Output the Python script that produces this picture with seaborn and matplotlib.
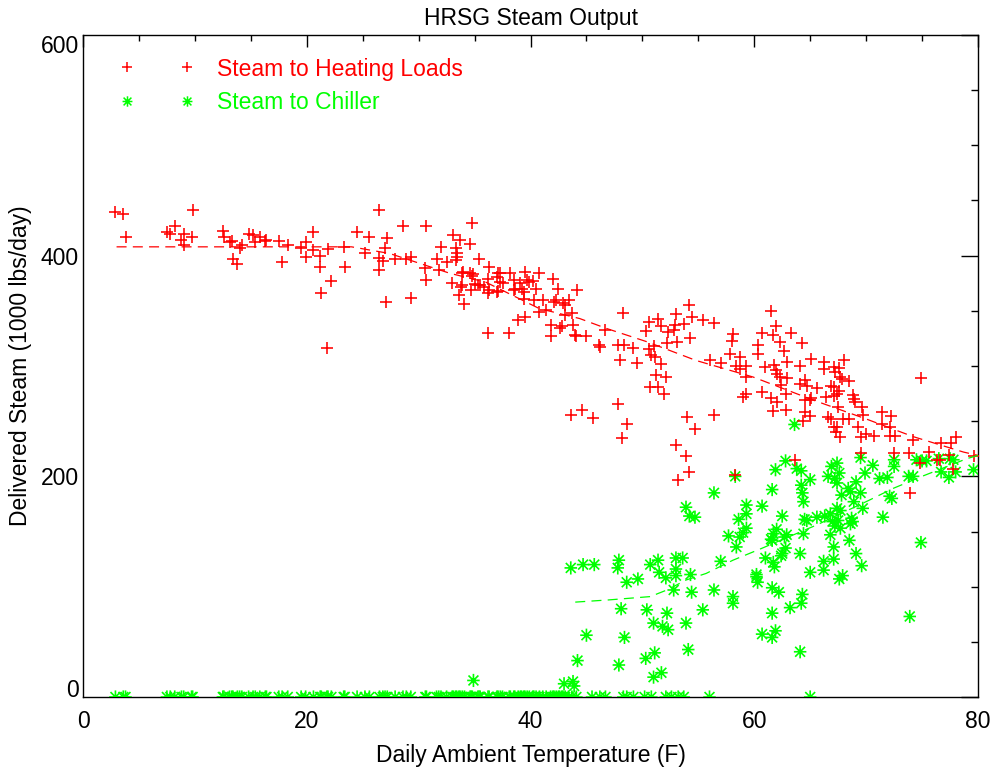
import numpy as np
import pandas as pd
import matplotlib
matplotlib.use("Agg")
import matplotlib.pyplot as plt
from matplotlib.path import Path
from matplotlib.lines import Line2D
from matplotlib.ticker import MultipleLocator
import seaborn as sns

# ---------------- data ----------------
heat_temp = [2.9, 3.6, 3.8, 9.8, 7.5, 7.8, 8.2, 9.0, 8.8, 9.0, 9.7, 12.5, 12.6, 13.1, 13.3, 13.4, 13.8,
             14.0, 14.2, 14.8, 15.2, 15.4, 15.8, 16.3, 16.4, 17.5, 17.8, 18.3, 19.5, 19.9, 19.9, 20.6,
             20.6, 21.2, 21.2, 21.3, 21.8, 21.9, 22.2, 23.3, 23.4, 24.5, 25.2, 25.6, 26.5, 26.5, 26.5,
             26.8, 27.0, 27.2, 27.1, 27.9, 28.6, 28.9, 29.3, 29.3, 30.7, 30.6, 30.7, 31.6, 31.8, 32.0,
             32.5, 33.1, 33.0, 33.3, 33.4, 33.4, 33.6, 33.7, 33.9, 33.9, 34.1, 34.6, 34.6, 34.8, 34.8,
             34.7, 35.3, 35.4, 35.5, 36.2, 36.3, 36.2, 36.3, 37.0, 37.1, 37.1,
             33.3, 33.8, 34.0, 34.9, 35.0, 35.8, 36.2, 37.0, 37.3, 37.3, 37.5, 38.1, 38.2, 38.5, 38.5,
             38.6, 39.1, 39.2, 39.4, 39.5, 39.7, 39.9, 40.2, 39.4, 38.9, 39.5, 40.5, 40.3, 40.8, 41.1,
             40.8, 41.4, 42.0, 42.5, 42.1, 42.3, 42.9, 43.1, 43.4, 41.8, 41.8, 42.6, 42.8, 43.1, 43.7,
             43.8, 44.0, 44.1, 44.2, 45.0, 46.1, 46.2, 46.7, 48.3, 47.8, 48.4, 49.2, 48.0, 49.5, 47.8,
             48.6, 48.2, 43.6, 44.6, 45.6, 50.3, 50.6, 51.4, 51.7, 50.6, 50.8, 51.0, 51.1, 50.7, 51.4,
             51.2, 51.7, 52.1, 51.9, 52.2, 52.3, 52.8, 52.9, 53.0, 53.1, 53.7, 54.2, 54.4, 54.3, 54.0,
             54.7, 53.0, 53.9, 54.2, 53.2,
             55.4, 56.4, 56.0, 57.0, 56.4, 58.1, 58.0, 57.8, 58.7, 58.4, 58.7, 59.3, 59.3, 59.0, 59.3,
             58.3, 60.7, 60.3, 60.3, 60.7, 61.5, 61.9, 61.7, 61.0, 61.8, 61.9, 62.0, 62.3, 62.7, 62.9,
             63.3, 62.3, 62.4, 62.9, 62.0, 61.7, 62.8, 62.8, 61.5, 64.1, 64.3, 64.1, 64.5, 64.7, 64.5,
             65.0, 65.1, 64.5, 64.4, 65.0, 65.1, 65.6, 66.2, 66.2, 66.4, 66.6, 66.9, 67.1, 67.2, 66.9,
             67.1, 67.1, 67.4, 67.1, 67.4, 67.3, 67.7, 68.0, 67.6, 67.7, 67.8, 67.6, 67.5, 67.9, 68.5,
             68.8, 68.9, 69.0, 68.5, 69.3, 69.6, 69.7, 69.5, 70.0, 70.7, 71.4, 71.4, 72.2, 72.1, 72.1,
             72.6, 74.2, 74.9, 73.9, 76.7, 77.6, 78.0, 79.6, 69.5, 72.5, 73.8, 75.6, 74.8, 77.4, 77.8,
             63.6, 76.3, 76.6]
heat_steam = [440, 438, 417, 441, 421, 420, 427, 420, 414, 410, 417, 422, 417, 412, 413, 397, 392,
              407, 410, 420, 419, 412, 417, 413, 414, 413, 394, 410, 407, 412, 399, 421,
              405, 400, 390, 366, 316, 406, 377, 408, 390, 421, 402, 417, 441, 398, 387,
              395, 407, 416, 358, 397, 427, 397, 399, 362, 427, 389, 378, 397, 387, 408,
              394, 419, 375, 407, 399, 402, 364, 414, 384, 373, 356, 411, 384, 430, 382,
              369, 373, 397, 373, 379, 390, 330, 369, 381, 384, 368,
              396, 372, 385, 383, 374, 372, 366, 367, 384, 376, 375, 330, 384, 378, 369,
              370, 375, 370, 367, 385, 378, 376, 377, 361, 342, 344, 370, 360, 384, 360,
              349, 351, 379, 370, 358, 360, 357, 355, 360, 337, 327, 334, 336, 346, 348,
              337, 328, 327, 369, 327, 319, 317, 333, 348, 319, 319, 316, 305, 303, 266,
              247, 235, 256, 260, 253, 332, 340, 343, 336, 315, 310, 318, 308, 281, 281,
              292, 302, 290, 275, 321, 331, 333, 337, 347, 322, 338, 355, 344, 325, 254,
              243, 228, 218, 204, 197,
              342, 339, 305, 303, 256, 329, 323, 311, 308, 300, 297, 300, 290, 272, 275,
              201, 330, 319, 311, 276, 350, 336, 328, 299, 301, 296, 293, 322, 314, 304,
              330, 290, 283, 289, 267, 259, 260, 275, 271, 300, 321, 284, 287, 282, 269,
              269, 271, 258, 250, 255, 306, 280, 304, 297, 272, 254, 252, 299, 295, 282,
              281, 273, 275, 245, 245, 240, 236, 305, 298, 290, 288, 277, 263, 252, 286,
              274, 270, 267, 252, 245, 263, 256, 236, 238, 237, 258, 247, 255, 245, 237,
              237, 233, 289, 185, 230, 230, 236, 218, 221, 221, 221, 222, 212, 219, 207,
              215, 215, 215]

chill_temp = [34.9, 44.2, 43.0, 43.8, 43.9, 43.6, 44.7, 45.7, 47.9, 47.8, 48.6, 49.6, 50.7, 51.4,
              51.5, 52.1, 53.0, 53.6, 53.0, 53.0, 54.3, 52.8, 54.4, 48.1, 50.4, 52.2, 51.0, 51.8,
              52.3, 53.9, 55.4, 56.4, 57.0, 45.0, 48.4, 47.9, 50.3, 51.1, 51.0, 51.7, 54.1, 56.4,
              53.9, 54.2, 54.7, 58.3, 59.3, 59.3, 58.6, 57.7, 58.7, 59.0, 59.3, 58.4, 58.1, 58.1,
              60.2, 63.6, 62.8, 61.9, 61.6, 63.8, 64.2, 65.0, 64.2, 64.3, 64.4, 60.7, 62.5, 64.5,
              64.7, 64.4, 65.6, 66.3, 66.8, 67.0, 67.2, 67.5, 67.7, 67.4, 67.7, 66.9, 67.4, 67.6,
              67.2, 66.6, 67.4, 67.8, 68.4, 68.6, 69.1, 69.5, 69.9, 70.6, 69.5, 68.9, 69.7, 68.7,
              68.8, 68.6, 66.8, 67.1, 68.5, 69.1, 69.6, 67.9, 67.6, 67.1, 66.2, 66.2, 65.0, 64.1,
              62.8, 62.5, 62.4, 62.9, 62.7, 61.7, 61.6, 61.5, 62.0, 61.0, 61.7, 61.8, 60.2, 60.3,
              61.6, 62.2, 64.3, 64.2, 63.2, 61.6, 60.7, 61.6, 61.9, 64.1, 71.5, 72.1, 72.3, 71.2,
              71.9, 73.8, 74.2, 72.5, 72.5, 74.5, 75.0, 75.4, 76.5, 77.5, 77.8, 76.7, 77.4, 78.0,
              79.6, 74.9, 73.9]
chill_steam = [15, 33, 12, 14, 10, 117, 120, 120, 124, 117, 104, 107, 120, 124,
               113, 108, 126, 126, 116, 110, 111, 97, 95, 80, 79, 76, 67, 64,
               61, 67, 79, 97, 123, 56, 54, 29, 35, 40, 18, 22, 43, 185,
               172, 164, 163, 200, 174, 166, 161, 146, 145, 149, 153, 136, 91, 85,
               109, 247, 214, 206, 188, 207, 205, 197, 192, 185, 177, 173, 164, 161,
               160, 148, 163, 164, 166, 159, 155, 160, 153, 171, 169, 209, 212, 203,
               198, 200, 194, 183, 189, 186, 195, 217, 203, 210, 185, 177, 171, 162,
               159, 157, 147, 136, 142, 130, 119, 110, 107, 125, 123, 115, 113, 130,
               135, 130, 128, 147, 145, 148, 142, 143, 152, 126, 122, 118, 111, 104,
               99, 95, 93, 85, 81, 76, 57, 54, 60, 41, 163, 182, 180, 198,
               199, 200, 200, 215, 209, 215, 214, 214, 216, 216, 215, 204, 199, 204,
               206, 140, 73]

# days with no steam sent to the chiller
chill_zero_temp = [2.9, 3.6, 3.8, 7.5, 7.8, 8.2, 8.8, 9.0, 9.7, 9.8, 12.5, 12.6, 13.1, 13.3, 13.4,
                   13.8, 14.0, 14.2, 14.8, 15.2, 15.4, 15.8, 16.3, 16.4, 17.5, 17.8, 18.3, 19.5,
                   19.9, 20.6, 21.2, 21.3, 21.8, 21.9, 22.2, 23.3, 23.4, 24.5, 25.2, 25.6, 26.5,
                   26.8, 27.0, 27.2, 27.9, 28.6, 28.9, 29.3, 30.6, 30.7, 31.6, 31.8, 32.0, 32.5,
                   33.0, 33.1, 33.3, 33.4, 33.6, 33.7, 33.9, 34.1, 34.6, 34.7, 34.8, 35.3, 35.4,
                   35.5, 36.2, 36.3, 37.0, 37.1, 37.3, 37.5, 38.1, 38.2, 38.5, 38.6, 38.9, 39.1,
                   39.2, 39.4, 39.5, 39.7, 39.9, 40.2, 40.3, 40.5, 40.8, 41.1, 41.4, 41.8, 42.0,
                   42.1, 42.3, 42.5, 42.6, 42.8, 42.9, 43.1, 43.4, 43.7, 44.1, 45.5, 46.2, 46.7,
                   48.3, 48.6, 49.2, 50.2, 50.8, 52.1, 52.6, 53.2, 53.7, 56.0, 65.0]
chill_zero_steam = [0] * len(chill_zero_temp)

# smoothed trend curves
heat_trend_temp = [3.0, 24.0, 27.4, 30.1, 32.8, 36.0, 40.8, 44.4, 46.8, 50.4, 54.8, 59.9, 65.3,
                   70.0, 74.2, 78.7, 80.0]
heat_trend_steam = [408, 408, 402, 393, 384, 376, 352, 343, 334, 322, 305, 290, 269, 252, 236,
                    222, 219]
chill_trend_temp = [44.0, 47.0, 50.7, 52.2, 53.9, 55.7, 58.1, 60.5, 65.6, 70.2, 72.4, 75.0, 79.0,
                    80.0]
chill_trend_steam = [86, 88, 91, 97, 106, 112, 124, 134, 156, 178, 189, 200, 216, 219]

series_labels = ["Steam to Heating Loads", "Steam to Chiller"]
x_ticks = [0, 20, 40, 60, 80]
y_ticks = [0, 200, 400, 600]
title_text = "HRSG Steam Output"
x_label = "Daily Ambient Temperature (F)"
y_label = "Delivered Steam (1000 lbs/day)"

RED = "#ff0000"
GREEN = "#00ff00"

# ---------------- styling ----------------
sns.set_theme(style="white")
plt.rcParams["font.family"] = ["Liberation Sans", "DejaVu Sans"]
plt.rcParams["text.color"] = "black"
plt.rcParams["axes.labelcolor"] = "black"
plt.rcParams["xtick.color"] = "black"
plt.rcParams["ytick.color"] = "black"
FS = 16.5

fig = plt.figure(figsize=(9.94, 7.74), dpi=100)
ax = fig.add_axes([83 / 994, 77 / 774, 895 / 994, 662 / 774])

# IDL-style asterisk: vertical, horizontal and two diagonal strokes
star = Path([(0, -1), (0, 1), (-0.95, 0), (0.95, 0),
             (-0.75, -0.75), (0.75, 0.75), (-0.75, 0.75), (0.75, -0.75)],
            [Path.MOVETO, Path.LINETO] * 4)

heat_df = pd.DataFrame({"temp": heat_temp, "steam": heat_steam})
chill_df = pd.DataFrame({"temp": chill_temp + chill_zero_temp,
                         "steam": chill_steam + chill_zero_steam})

sns.scatterplot(data=chill_df, x="temp", y="steam", marker=star, s=90,
                color=GREEN, edgecolor=GREEN, facecolor="none", linewidth=1.2, ax=ax, zorder=3)
sns.scatterplot(data=heat_df, x="temp", y="steam", marker="+", s=75,
                color=RED, linewidth=1.15, ax=ax, zorder=4)

sns.lineplot(x=heat_trend_temp, y=heat_trend_steam, color=RED, lw=0.9,
             ls=(0, (8, 5)), estimator=None, ax=ax, zorder=5)
sns.lineplot(x=chill_trend_temp, y=chill_trend_steam, color=GREEN, lw=0.9,
             ls=(0, (8, 5)), estimator=None, ax=ax, zorder=5)

ax.set_xlim(0, 80)
ax.set_ylim(0, 600)
ax.set_xticks(x_ticks)
ax.set_yticks(y_ticks)
ax.xaxis.set_minor_locator(MultipleLocator(5))
ax.yaxis.set_minor_locator(MultipleLocator(50))
ax.tick_params(which="both", direction="in", top=True, right=True, colors="black",
               labelsize=FS, width=1.0)
ax.tick_params(axis="x", which="major", length=8.6, pad=9)
ax.tick_params(axis="x", which="minor", length=4.5)
ax.tick_params(axis="y", which="major", length=12, pad=3)
ax.tick_params(axis="y", which="minor", length=5)
for sp in ax.spines.values():
    sp.set_color("black")
    sp.set_linewidth(1.0)

yt = ax.yaxis.get_major_ticks()
yt[0].label1.set_va("baseline")
yt[-1].label1.set_va("top")

ax.set_title(title_text, fontsize=FS, pad=7, color="black")
ax.set_xlabel(x_label, fontsize=FS, labelpad=8, color="black")
ax.set_ylabel(y_label, fontsize=FS, labelpad=6, color="black")

handles = [
    Line2D([], [], ls="none", marker="+", color=RED, ms=7.5, mew=1.1),
    Line2D([], [], ls="none", marker=star, mfc="none", mec=GREEN, ms=7.5, mew=1.1),
]
ax.legend(handles, series_labels, loc="upper left", bbox_to_anchor=(0.0413, 0.966),
          numpoints=2, handlelength=3.22, handletextpad=1.0, labelspacing=0.45,
          frameon=False, borderpad=0, borderaxespad=0, fontsize=FS,
          labelcolor=[RED, GREEN])

fig.savefig("out.png", dpi=100)
